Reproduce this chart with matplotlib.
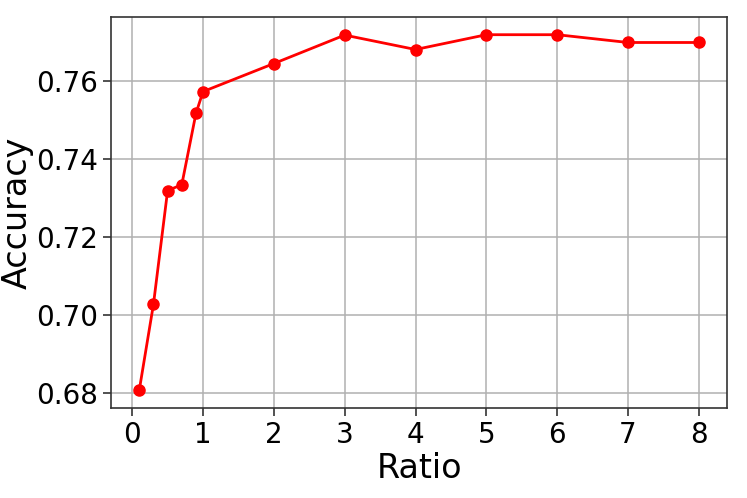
import matplotlib
matplotlib.use('Agg')
import matplotlib.pyplot as plt

# Ratio values and the matching accuracy
ratios = [0.1, 0.3, 0.5, 0.7, 0.9, 1, 2, 3, 4, 5, 6, 7, 8]
accuracy = [0.6808, 0.7028, 0.7320, 0.7335, 0.7518, 0.7574, 0.7646,
            0.7719, 0.7682, 0.7720, 0.7720, 0.7700, 0.7700]
yticks = [0.68, 0.70, 0.72, 0.74, 0.76]

fig = plt.figure(figsize=(7.47, 4.98), dpi=100)
ax = fig.add_axes([0.149, 0.181, 0.824, 0.785])

ax.plot(ratios, accuracy, color='red', marker='o', markersize=8, linewidth=2)
ax.grid(True, color='#b0b0b0', linewidth=1.1)
ax.set_axisbelow(True)
ax.set_xticks(range(0, 9))
ax.set_yticks(yticks)
ax.set_yticklabels(['%.2f' % v for v in yticks])
ax.tick_params(labelsize=20, length=6, width=1.2, color='#333333')
for sp in ax.spines.values():
    sp.set_color('#333333')
    sp.set_linewidth(1.2)

ax.set_xlabel('Ratio', fontsize=24, labelpad=2)
ax.set_ylabel('Accuracy', fontsize=24, labelpad=2)

fig.savefig('out.png', dpi=100)
